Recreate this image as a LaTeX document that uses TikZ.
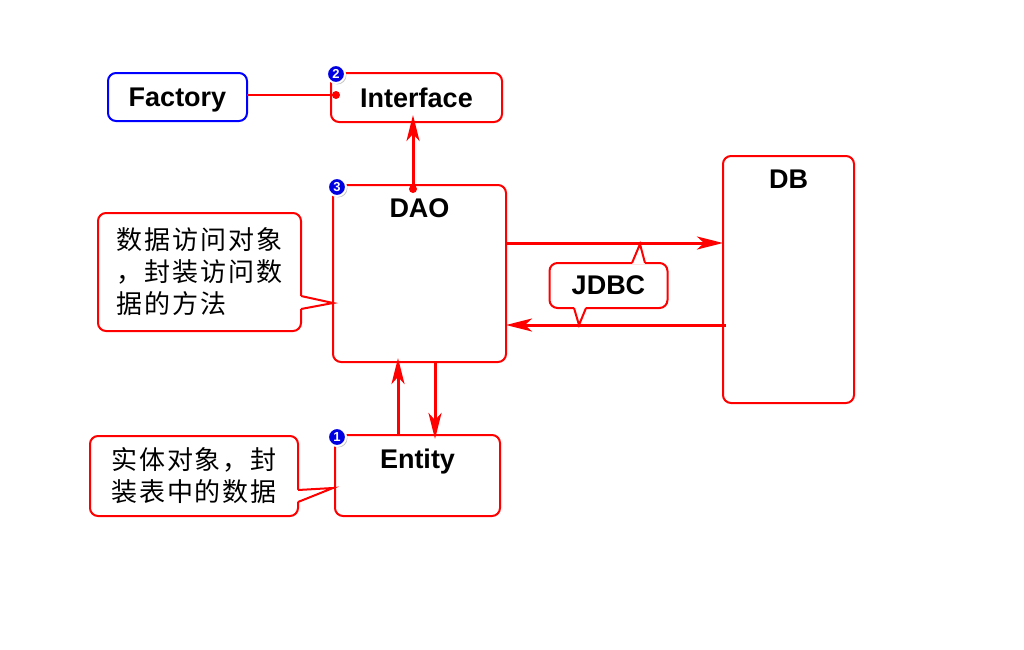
\documentclass[tikz,border=0pt]{standalone}
\usepackage{fontspec}
\setmainfont{Liberation Sans}
\newfontfamily\cjk[LetterSpace=7]{Noto Sans CJK SC}
\usetikzlibrary{arrows.meta,calc,shadows}
\definecolor{boxred}{RGB}{255,0,0}
\definecolor{boxblue}{RGB}{0,0,255}
\definecolor{numblue}{RGB}{0,0,225}
\tikzstyle{box} = [draw=boxred, line width=1pt, rounded corners=4pt, fill=white, outer sep=0pt]
\tikzstyle{lbl} = [font=\fontsize{13.5}{16}\selectfont\bfseries, inner sep=0pt]
\tikzstyle{note} = [box, align=left, font=\cjk\fontsize{13}{16}\selectfont]
\tikzstyle{tail} = [draw=boxred, line width=1pt, line join=miter]
\tikzstyle{arr} = [draw=boxred, line width=1.5pt, -{Stealth[length=13pt,width=6.5pt,inset=3.5pt]}]
\tikzstyle{num} = [circle, fill=numblue, draw=white, line width=1pt, inner sep=0pt, minimum size=9pt,
  text=white, font=\fontsize{6.5}{6.5}\selectfont\bfseries,
  drop shadow={shadow xshift=0.7pt, shadow yshift=-0.7pt, opacity=0.45}]

\begin{document}
\begin{tikzpicture}[x=0.5pt, y=-0.5pt]
  \useasboundingbox (0,0) rectangle (1024,649);

  % boxes
  \node [box, lbl, text depth=0pt, draw=boxblue, minimum width=69.5pt, minimum height=24pt] (factory) at (177.5,97) {Factory};
  \node [box, lbl, minimum width=85.5pt, minimum height=24.5pt] (iface) at (416.5,97.5) {Interface};
  \node [box, minimum width=86.5pt, minimum height=88.5pt] (dao) at (419.5,273.5) {};
  \node [box, minimum width=65.5pt, minimum height=123.5pt] (db) at (788.5,279.5) {};
  \node [box, minimum width=82.5pt, minimum height=40.5pt] (entity) at (417.5,475.5) {};
  \node [lbl, anchor=base] (daolbl) at ([yshift=-16pt]dao.north) {DAO};
  \node [lbl, anchor=base] (dblbl) at ([yshift=-16pt]db.north) {DB};
  \node [lbl, anchor=base] (entitylbl) at ([yshift=-16.5pt]entity.north) {Entity};

  % connectors
  \coordinate (ifdot) at (336,95);
  \draw [boxred, line width=1.3pt] (factory.east |- ifdot) -- (ifdot);
  \fill [boxred] (ifdot) circle (2pt);
  \coordinate (daotop) at (413,189);
  \draw [arr] (daotop) -- ($(daotop |- iface.south)+(0,-7)$);
  \fill [boxred] (daotop) circle (2pt);
  \coordinate (ya) at (0,243);
  \coordinate (yb) at (0,325);
  \draw [arr] (dao.east |- ya) -- (db.west |- ya);
  \draw [arr] ($(db.west |- yb)+(3,0)$) -- (dao.east |- yb);
  \coordinate (xa) at (398,0);
  \coordinate (xb) at (435,0);
  \draw [arr] (entity.north -| xa) -- ($(dao.south -| xa)+(0,-4)$);
  \draw [arr] (dao.south -| xb) -- ($(entity.north -| xb)+(0,4)$);

  % callouts
  \node [note, minimum width=101.5pt, minimum height=59pt] (c1) at (199.5,272)
    {数据访问对象\\，封装访问数\\据的方法};
  \coordinate (c1tip) at (333,303);
  \fill [white] ([xshift=-0.6pt,yshift=-12pt]c1.east) -- (c1tip) -- ([xshift=-0.6pt,yshift=-18.5pt]c1.east) -- cycle;
  \draw [tail] ([yshift=-12pt]c1.east) -- (c1tip) -- ([yshift=-18.5pt]c1.east);

  \node [note, minimum width=104pt, minimum height=40pt] (c2) at (194,476)
    {实体对象，封\\装表中的数据};
  \coordinate (c2tip) at (333,488);
  \fill [white] ([xshift=-0.6pt,yshift=-7pt]c2.east) -- (c2tip) -- ([xshift=-0.6pt,yshift=-13pt]c2.east) -- cycle;
  \draw [tail] ([yshift=-7pt]c2.east) -- (c2tip) -- ([yshift=-13pt]c2.east);

  \node [box, lbl, minimum width=59pt, minimum height=22.5pt] (cj) at (608.5,285.5) {JDBC};
  \coordinate (cjtop) at (640,244);
  \coordinate (cjbot) at (579,325);
  \fill [white] ([xshift=11.75pt,yshift=-0.6pt]cj.north) -- (cjtop) -- ([xshift=18.25pt,yshift=-0.6pt]cj.north) -- cycle;
  \draw [tail] ([xshift=11.75pt]cj.north) -- (cjtop) -- ([xshift=18.25pt]cj.north);
  \fill [white] ([xshift=-17.25pt,yshift=0.6pt]cj.south) -- (cjbot) -- ([xshift=-11.25pt,yshift=0.6pt]cj.south) -- cycle;
  \draw [tail] ([xshift=-17.25pt]cj.south) -- (cjbot) -- ([xshift=-11.25pt]cj.south);

  % step numbers
  \node [num] (n2) at ([xshift=2.5pt,yshift=-0.5pt]iface.north west) {2};
  \node [num] (n3) at ([xshift=2pt,yshift=-1pt]dao.north west) {3};
  \node [num] (n1) at ([xshift=1pt,yshift=-1pt]entity.north west) {1};
\end{tikzpicture}
\end{document}
